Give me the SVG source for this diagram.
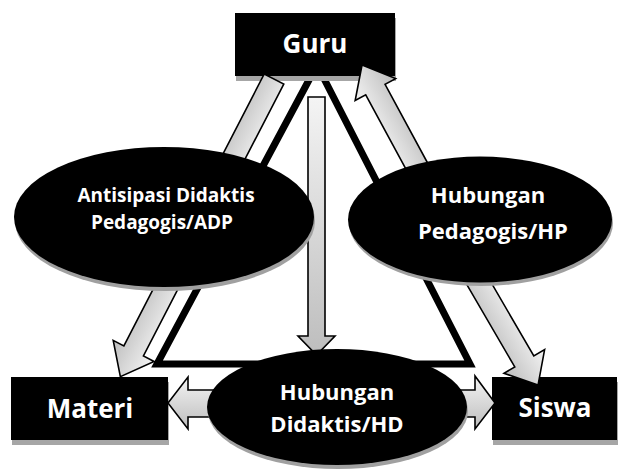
<svg xmlns="http://www.w3.org/2000/svg" width="622" height="470" viewBox="0 0 622 470">
<style>
.box{fill:#000}
.bshadow{fill:#a6a6a6}
.eshadow{fill:#a0a0a0}
.ell{fill:#000}
.arrow{fill:url(#ag);stroke:#000;stroke-width:1.6;stroke-linejoin:miter}
.tri{fill:none;stroke:#000;stroke-width:7;stroke-linejoin:miter}
.lbl{font-family:"Open Sans","Noto Sans",sans-serif;font-weight:bold;fill:#fff;text-anchor:middle}
.big{font-size:26px}
.mid{font-size:22px}
.sm{font-size:19px}
</style>
<defs>
<linearGradient id="ag" x1="0" y1="0" x2="0" y2="1">
<stop offset="0" stop-color="#f4f4f4"/>
<stop offset="1" stop-color="#bdbdbd"/>
</linearGradient>
</defs>
<rect width="622" height="470" fill="#fff"/>
<polygon class="tri" points="317,65 157,364 470,364"/>
<g id="guru">
<rect class="bshadow" x="236" y="18" width="160" height="63"/>
<rect class="box" x="235" y="13" width="160" height="63"/>
<text class="lbl big" x="315" y="53">Guru</text>
</g>
<g id="materi">
<rect class="bshadow" x="12" y="382" width="157" height="63"/>
<rect class="box" x="11" y="377" width="157" height="63"/>
<text class="lbl big" x="90" y="418">Materi</text>
</g>
<g id="siswa">
<rect class="bshadow" x="493" y="382" width="125" height="63"/>
<rect class="box" x="492" y="377" width="125" height="63"/>
<text class="lbl big" x="555" y="417">Siswa</text>
</g>
<g id="connectors">
<path class="arrow" transform="translate(274,79) rotate(117.3)" d="M0,-11 H306 V-23 L335,0 L306,23 V11 H0 Z"/>
<path class="arrow" transform="translate(427,185) rotate(-118.4)" d="M0,-11 H108.5 V-23 L136.5,0 L108.5,23 V11 H0 Z"/>
<path class="arrow" transform="translate(474,275) rotate(59.8)" d="M0,-11 H100 V-23.5 L127.3,0 L100,23.5 V11 H0 Z"/>
<path class="arrow" d="M308,97 H325 V336 H335 L316.5,355 L298,336 H308 Z"/>
<path class="arrow" d="M228,390 H188 V377 L168,403 L188,429 V417 H228 Z"/>
<path class="arrow" d="M450,390 H475 V376 L495,403 L475,429 V417 H450 Z"/>
</g>
<g id="adp">
<ellipse class="eshadow" cx="165" cy="221" rx="150" ry="70"/>
<ellipse class="ell" cx="164" cy="217" rx="150" ry="70"/>
<text class="lbl sm" x="166" y="202">Antisipasi Didaktis</text>
<text class="lbl sm" x="162" y="229">Pedagogis/ADP</text>
</g>
<g id="hp">
<ellipse class="eshadow" cx="481" cy="223" rx="132" ry="63"/>
<ellipse class="ell" cx="480" cy="219.5" rx="132" ry="63"/>
<text class="lbl mid" x="488" y="203">Hubungan</text>
<text class="lbl mid" x="493" y="239">Pedagogis/HP</text>
</g>
<g id="hd">
<ellipse class="eshadow" cx="338" cy="411" rx="130" ry="58"/>
<ellipse class="ell" cx="337" cy="407" rx="130" ry="58"/>
<text class="lbl mid" x="337" y="400">Hubungan</text>
<text class="lbl mid" x="337" y="432">Didaktis/HD</text>
</g>
</svg>
